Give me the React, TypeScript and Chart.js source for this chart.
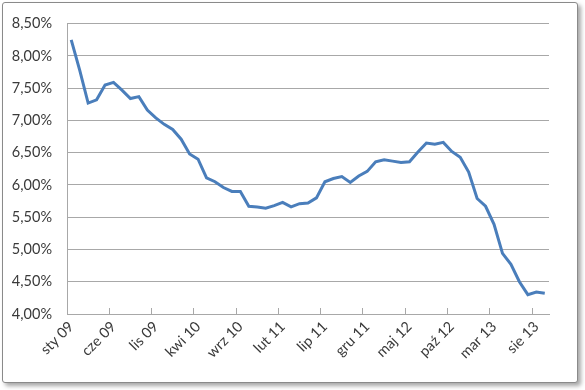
import React, { useEffect, useRef } from "react";
import { Chart, registerables } from "chart.js";

Chart.register(...registerables);

const monthNames = ["sty", "lut", "mar", "kwi", "maj", "cze", "lip", "sie", "wrz", "paź", "lis", "gru"];
const years = ["09", "10", "11", "12", "13"];
const lastYearMonths = 9;

const categories: string[] = [];
years.forEach((y, yi) => {
  const n = yi === years.length - 1 ? lastYearMonths : 12;
  for (let m = 0; m < n; m++) categories.push(`${monthNames[m]} ${y}`);
});

const rates = [
  8.25, 7.78, 7.27, 7.32, 7.55, 7.59, 7.47, 7.34, 7.37, 7.16,
  7.04, 6.94, 6.86, 6.71, 6.48, 6.40, 6.11, 6.05, 5.96, 5.90,
  5.90, 5.67, 5.66, 5.64, 5.68, 5.73, 5.66, 5.71, 5.72, 5.80,
  6.05, 6.10, 6.13, 6.04, 6.14, 6.21, 6.36, 6.39, 6.37, 6.35,
  6.36, 6.51, 6.65, 6.63, 6.66, 6.52, 6.43, 6.20, 5.79, 5.67,
  5.39, 4.94, 4.77, 4.50, 4.30, 4.34, 4.32,
];

const yMin = 4;
const yMax = 8.5;
const yStep = 0.5;
const labelEvery = 5;

const FONT = { family: "Lato, 'Open Sans', sans-serif", size: 14.5 };
const TEXT = "#3a3a3a";
const GRID = "#a8a8a8";

export default function App() {
  const ref = useRef<HTMLCanvasElement | null>(null);

  useEffect(() => {
    if (!ref.current) return;
    const chart = new Chart(ref.current, {
      type: "line",
      data: {
        labels: categories,
        datasets: [
          {
            data: rates,
            borderColor: "#4a7ebb",
            borderWidth: 3,
            pointRadius: 0,
            tension: 0,
            fill: false,
          },
        ],
      },
      options: {
        animation: false,
        responsive: false,
        layout: { padding: { top: 19, right: 36, bottom: 0, left: 0 } },
        plugins: { legend: { display: false }, tooltip: { enabled: false } },
        scales: {
          x: {
            type: "category",
            offset: true,
            grid: {
              offset: true,
              drawOnChartArea: false,
              drawTicks: true,
              tickLength: -6,
              color: (ctx: any) => (ctx.index % labelEvery === 0 ? GRID : "rgba(0,0,0,0)"),
              tickColor: (ctx: any) => (ctx.index % labelEvery === 0 ? GRID : "rgba(0,0,0,0)"),
            },
            border: { color: GRID, width: 1 },
            ticks: {
              autoSkip: false,
              minRotation: 45,
              maxRotation: 45,
              padding: 10,
              color: TEXT,
              font: FONT,
              callback: (_v: any, i: number) => (i % labelEvery === 0 ? categories[i] : ""),
            },
            afterFit: (s: any) => {
              s.height = 76;
            },
          },
          y: {
            min: yMin,
            max: yMax,
            grid: { color: GRID, drawTicks: false, lineWidth: 1 },
            border: { color: GRID, width: 1 },
            ticks: {
              stepSize: yStep,
              padding: 15,
              color: TEXT,
              font: FONT,
              callback: (v: any) => Number(v).toFixed(2).replace(".", ",") + "%",
            },
            afterFit: (s: any) => {
              s.width = 67;
            },
          },
        },
      },
    });
    return () => chart.destroy();
  }, []);

  return (
    <div style={{ position: "absolute", left: 0, top: 0, width: 585, height: 390, background: "#fff" }}>
      <div
        style={{
          position: "absolute",
          left: 2,
          top: 2,
          width: 574,
          height: 379,
          border: "1px solid #8a8a8a",
          borderRadius: 3,
          background: "#fff",
          boxShadow: "3px 3px 4px rgba(0,0,0,0.35)",
        }}
      />
      <canvas ref={ref} width={585} height={390} style={{ position: "absolute", left: 0, top: 0, width: 585, height: 390 }} />
    </div>
  );
}
